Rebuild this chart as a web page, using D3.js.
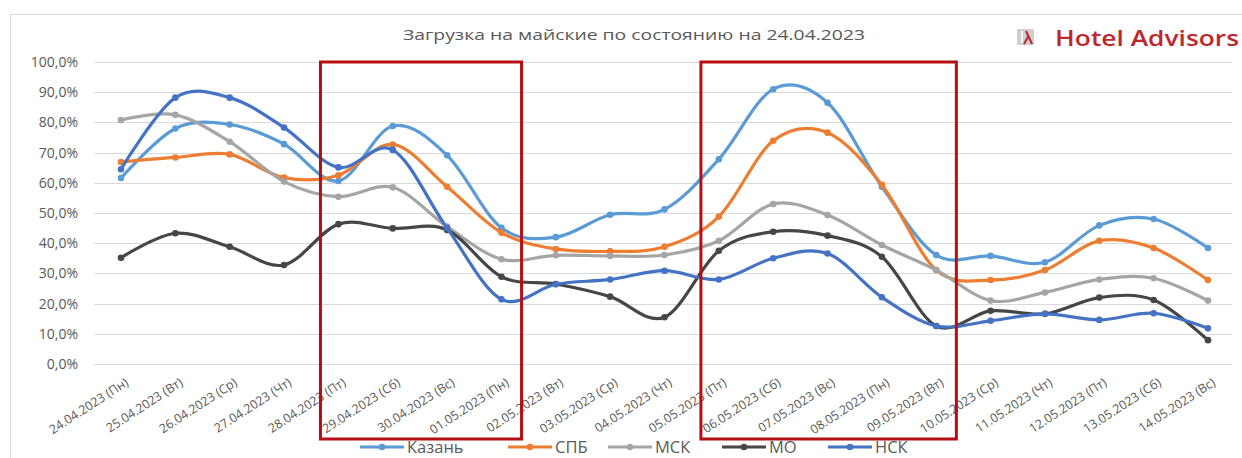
<!DOCTYPE html>
<html>
<head>
<meta charset="utf-8">
<script src="https://cdn.jsdelivr.net/npm/d3@7"></script>
<style>
  body { margin: 0; background: #fff; }
  text { font-family: "Open Sans", "Noto Sans", sans-serif; }
</style>
</head>
<body>
<div id="chart"></div>
<script>
(function(d3) {
  'use strict';

  var categories = ['24.04.2023 (Пн)', '25.04.2023 (Вт)', '26.04.2023 (Ср)', '27.04.2023 (Чт)',
    '28.04.2023 (Пт)', '29.04.2023 (Сб)', '30.04.2023 (Вс)', '01.05.2023 (Пн)', '02.05.2023 (Вт)',
    '03.05.2023 (Ср)', '04.05.2023 (Чт)', '05.05.2023 (Пт)', '06.05.2023 (Сб)', '07.05.2023 (Вс)',
    '08.05.2023 (Пн)', '09.05.2023 (Вт)', '10.05.2023 (Ср)', '11.05.2023 (Чт)', '12.05.2023 (Пт)',
    '13.05.2023 (Сб)', '14.05.2023 (Вс)'];

  var seriesNames = ['Казань', 'СПБ', 'МСК', 'МО', 'НСК'];

  var kazan = [61.6, 78.0, 79.3, 72.8, 60.6, 78.8, 69.1, 45.1, 42.0, 49.4, 51.2, 67.8, 91.0, 86.5, 58.7, 36.1, 35.8, 33.7, 45.9, 48.0, 38.4];
  var spb   = [66.9, 68.4, 69.4, 61.7, 62.5, 72.7, 58.7, 43.5, 38.1, 37.3, 38.8, 48.8, 73.9, 76.6, 59.3, 31.1, 27.8, 31.1, 40.8, 38.4, 27.8];
  var msk   = [80.8, 82.5, 73.6, 60.4, 55.4, 58.5, 45.5, 34.7, 36.0, 35.8, 36.1, 40.8, 53.0, 49.3, 39.4, 31.1, 21.0, 23.7, 28.0, 28.4, 21.0];
  var mo    = [35.2, 43.3, 38.8, 32.8, 46.3, 44.9, 44.4, 28.9, 26.5, 22.3, 15.5, 37.5, 43.8, 42.5, 35.5, 12.6, 17.6, 16.6, 22.0, 21.2, 7.9];
  var nsk   = [64.5, 88.2, 88.2, 78.3, 65.1, 70.9, 45.0, 21.4, 26.4, 28.0, 30.9, 28.0, 35.0, 36.6, 22.1, 12.6, 14.3, 16.6, 14.6, 16.8, 11.8];

  var yTicks = [0, 0.1, 0.2, 0.3, 0.4, 0.5, 0.6, 0.7, 0.8, 0.9, 1.0];

  // highlighted periods (first and last category of each box)
  var highlights = [['28.04.2023 (Пт)', '01.05.2023 (Пн)'], ['05.05.2023 (Пт)', '09.05.2023 (Вт)']];

  var colors = ['#5B9BD5', '#ED7D31', '#A5A5A5', '#464646', '#4472C4'];
  var values = [kazan, spb, msk, mo, nsk];

  var width = 1242;
  var height = 458;

  var svg = d3.select('#chart')
    .append('svg')
    .attr('width', width)
    .attr('height', height);

  // outer chart border
  svg.append('rect')
    .attr('x', 10.5).attr('y', 14.5)
    .attr('width', 1250).attr('height', 460)
    .attr('fill', 'none')
    .attr('stroke', '#D9D9D9');

  var x = d3.scalePoint()
    .domain(categories)
    .range([121, 1208]);

  var y = d3.scaleLinear()
    .domain([0, 1])
    .range([364, 62]);

  var ru = d3.formatLocale({decimal: ',', thousands: ' ', grouping: [3], currency: ['', ' ₽']});
  var fmt = ru.format('.1%');

  // gridlines
  svg.append('g')
    .selectAll('line')
    .data(yTicks)
    .enter()
    .append('line')
    .attr('x1', 94).attr('x2', 1232)
    .attr('y1', function(d) { return Math.round(y(d)) + 0.5; })
    .attr('y2', function(d) { return Math.round(y(d)) + 0.5; })
    .attr('stroke', '#D9D9D9')
    .attr('stroke-width', 1);

  // y labels
  svg.append('g')
    .selectAll('text')
    .data(yTicks)
    .enter()
    .append('text')
    .attr('x', 78)
    .attr('y', function(d) { return y(d); })
    .attr('dy', '0.35em')
    .attr('text-anchor', 'end')
    .attr('font-size', 14)
    .attr('fill', '#595959')
    .text(function(d) { return fmt(d); });

  // x labels
  svg.append('g')
    .selectAll('text')
    .data(categories)
    .enter()
    .append('text')
    .attr('transform', function(d) { return 'translate(' + (x(d) + 6) + ',381) rotate(-33)'; })
    .attr('text-anchor', 'end')
    .attr('dy', '0.35em')
    .attr('font-size', 12.5)
    .attr('fill', '#595959')
    .text(function(d) { return d; });

  // lines
  var line = d3.line()
    .x(function(d, i) { return x(categories[i]); })
    .y(function(d) { return y(d / 100); })
    .curve(d3.curveCatmullRom.alpha(0));

  var series = svg.append('g')
    .selectAll('g')
    .data(values)
    .enter()
    .append('g');

  series.append('path')
    .attr('d', line)
    .attr('fill', 'none')
    .attr('stroke', function(d, i) { return colors[i]; })
    .attr('stroke-width', 3.2)
    .attr('stroke-linecap', 'round');

  series.each(function(vals, k) {
    d3.select(this).selectAll('circle')
      .data(vals)
      .enter()
      .append('circle')
      .attr('cx', function(d, i) { return x(categories[i]); })
      .attr('cy', function(d) { return y(d / 100); })
      .attr('r', 3.3)
      .attr('fill', colors[k]);
  });

  // red boxes
  var step = x.step();
  svg.append('g')
    .selectAll('rect')
    .data(highlights)
    .enter()
    .append('rect')
    .attr('x', function(d) { return x(d[0]) - step * 0.33; })
    .attr('y', y(1))
    .attr('width', function(d) { return x(d[1]) - x(d[0]) + step * 0.7; })
    .attr('height', 439 - y(1))
    .attr('fill', 'none')
    .attr('stroke', '#B50F14')
    .attr('stroke-width', 3);

  // title
  svg.append('text')
    .attr('x', 403)
    .attr('y', 40)
    .attr('font-size', 14)
    .attr('fill', '#595959')
    .attr('textLength', 462)
    .attr('lengthAdjust', 'spacingAndGlyphs')
    .text('Загрузка на майские по состоянию на 24.04.2023');

  // logo
  var logo = svg.append('g');
  logo.append('rect')
    .attr('x', 1017).attr('y', 29)
    .attr('width', 17).attr('height', 16)
    .attr('fill', '#CFCFCF');
  logo.append('line')
    .attr('x1', 1022).attr('x2', 1022)
    .attr('y1', 31).attr('y2', 43)
    .attr('stroke', '#fff')
    .attr('stroke-width', 1.5);
  logo.append('path')
    .attr('d', 'M1026,31 L1032,44 M1028.5,36 L1024,44')
    .attr('fill', 'none')
    .attr('stroke', '#C0272D')
    .attr('stroke-width', 2);
  logo.append('text')
    .attr('x', 1055)
    .attr('y', 46)
    .attr('font-size', 21)
    .attr('font-weight', 600)
    .attr('fill', '#C0272D')
    .attr('textLength', 184)
    .attr('lengthAdjust', 'spacingAndGlyphs')
    .text('Hotel Advisors');

  // legend
  var legendX = [360, 508, 608, 722, 828];
  var legend = svg.append('g')
    .selectAll('g')
    .data(seriesNames)
    .enter()
    .append('g')
    .attr('transform', function(d, i) { return 'translate(' + legendX[i] + ',447)'; });

  legend.append('line')
    .attr('x1', 0).attr('x2', 44)
    .attr('stroke', function(d, i) { return colors[i]; })
    .attr('stroke-width', 3.2);

  legend.append('circle')
    .attr('cx', 22)
    .attr('r', 3.3)
    .attr('fill', function(d, i) { return colors[i]; });

  legend.append('text')
    .attr('x', 47)
    .attr('dy', '0.36em')
    .attr('font-size', 16.5)
    .attr('fill', '#595959')
    .text(function(d) { return d; });

})(window.d3);
</script>
</body>
</html>
